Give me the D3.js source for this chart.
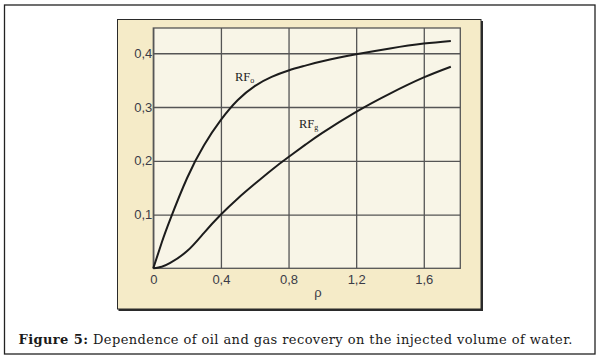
<!DOCTYPE html>
<html lang="en">
<head>
    <meta charset="utf-8">
    <title>oil and gas recovery vs injected water</title>
    <script src="https://d3js.org/d3.v7.min.js"></script>
    <style>
        body { margin: 0; background: #fff; }
        .tick text { font-family: "Liberation Sans", Arial, sans-serif; font-size: 13px; fill: #3a3b47; }
        .rf { font-family: "Liberation Serif", "DejaVu Serif", serif; font-size: 12.5px; fill: #222; }
        .caption { font-family: "DejaVu Serif", "Liberation Serif", serif; font-size: 13px; fill: #1a1a1a; }
    </style>
</head>
<body>
<script>
    // values
    const rho = [0, 0.05, 0.1, 0.2, 0.3, 0.4, 0.5, 0.6, 0.7, 0.8, 0.9, 1.0, 1.2, 1.4, 1.6, 1.76];
    const rfOil = [0, 0.048, 0.091, 0.168, 0.229, 0.276, 0.313, 0.339, 0.356, 0.368, 0.377, 0.385, 0.398, 0.409, 0.418, 0.423];
    const rfGas = [0, 0.003, 0.010, 0.032, 0.066, 0.100, 0.130, 0.157, 0.183, 0.207, 0.230, 0.252, 0.291, 0.325, 0.355, 0.375];

    const xTicks = [0, 0.4, 0.8, 1.2, 1.6];
    const xTickLabels = ["0", "0,4", "0,8", "1,2", "1,6"];
    const yTicks = [0.1, 0.2, 0.3, 0.4];
    const yTickLabels = ["0,1", "0,2", "0,3", "0,4"];

    const W = 602, H = 361;
    const plot = { left: 153.3, top: 28, right: 460.3, bottom: 268.3 };
    const pw = plot.right - plot.left, ph = plot.bottom - plot.top;

    const svg = d3.select("body").append("svg")
        .attr("width", W)
        .attr("height", H);

    // outer figure frame
    svg.append("rect")
        .attr("x", 4.5).attr("y", 5)
        .attr("width", 590.5).attr("height", 349)
        .attr("fill", "#fff")
        .attr("stroke", "#222")
        .attr("stroke-width", 1.3);

    // beige panel with a little shadow on right/bottom
    svg.append("rect")
        .attr("x", 118.5).attr("y", 21)
        .attr("width", 364.5).attr("height", 290)
        .attr("fill", "#2a2a2a");
    svg.append("rect")
        .attr("x", 117.5).attr("y", 19.5)
        .attr("width", 363.5).attr("height", 289.5)
        .attr("fill", "#f5ebc8")
        .attr("stroke", "#2a2a2a")
        .attr("stroke-width", 1);

    const g = svg.append("g")
        .attr("transform", "translate(" + plot.left + "," + plot.top + ")");

    g.append("rect")
        .attr("width", pw).attr("height", ph)
        .attr("fill", "#f8f5e7");

    const x = d3.scaleLinear().domain([0, 1.816]).range([0, pw]);
    const y = d3.scaleLinear().domain([0, 0.447]).range([ph, 0]);

    // grid + tick labels
    const xAxis = g.append("g")
        .attr("transform", "translate(0," + ph + ")")
        .call(d3.axisBottom(x).tickValues(xTicks).tickSize(-ph).tickPadding(6.5)
            .tickFormat((d, i) => xTickLabels[i]));
    const yAxis = g.append("g")
        .call(d3.axisLeft(y).tickValues(yTicks).tickSize(-pw).tickPadding(1)
            .tickFormat((d, i) => yTickLabels[i]));

    [xAxis, yAxis].forEach(a => {
        a.select(".domain").remove();
        a.selectAll(".tick line").attr("stroke", "#555").attr("stroke-width", 1.3);
    });

    // plot frame
    g.append("rect")
        .attr("width", pw).attr("height", ph)
        .attr("fill", "none")
        .attr("stroke", "#555")
        .attr("stroke-width", 1.3);

    // curves
    const line = d3.line()
        .x(d => x(d[0]))
        .y(d => y(d[1]))
        .curve(d3.curveNatural);

    [rfOil, rfGas].forEach(series => {
        g.append("path")
            .datum(rho.map((r, i) => [r, series[i]]))
            .attr("fill", "none")
            .attr("stroke", "#1c1c1c")
            .attr("stroke-width", 2)
            .attr("d", line);
    });

    // curve labels
    const lo = svg.append("text").attr("class", "rf").attr("x", 235).attr("y", 81);
    lo.append("tspan").text("RF");
    lo.append("tspan").attr("font-size", "8px").attr("dy", 1.5).text("o");

    const lg = svg.append("text").attr("class", "rf").attr("x", 299).attr("y", 128);
    lg.append("tspan").text("RF");
    lg.append("tspan").attr("font-size", "8px").attr("dy", 1.5).text("g");

    // axis title
    svg.append("text")
        .attr("x", 318).attr("y", 297)
        .attr("text-anchor", "middle")
        .attr("font-family", "Liberation Sans, Arial, sans-serif")
        .attr("font-size", "13px")
        .attr("fill", "#3a3b47")
        .text("ρ");

    // caption
    const cap = svg.append("text")
        .attr("class", "caption")
        .attr("x", 18.5).attr("y", 343.5)
        .attr("textLength", 554)
        .attr("lengthAdjust", "spacing");
    cap.append("tspan").attr("font-weight", "bold").text("Figure 5:");
    cap.append("tspan").text(" Dependence of oil and gas recovery on the injected volume of water.");
</script>
</body>
</html>
